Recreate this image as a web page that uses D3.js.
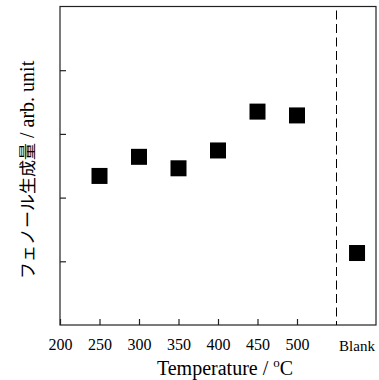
<!DOCTYPE html>
<meta charset="utf-8">
<script src="https://d3js.org/d3.v7.min.js"></script>
<style>
    body { margin: 0; background: #fff; }
    text { font-family: "Liberation Serif", "Times New Roman", serif; fill: #000; }
</style>
<svg width="379" height="380"></svg>
<script>
    // data
    var temps = [250, 300, 350, 400, 450, 500];
    var yields = [2.34, 2.64, 2.46, 2.74, 3.35, 3.29];
    var blankX = 576;
    var blankValue = 1.13;
    var xTicks = [200, 250, 300, 350, 400, 450, 500];
    var yTicks = [1, 2, 3, 4];

    var svg = d3.select("svg");
    var mLeft = 60, mRight = 376, mTop = 6.5, mBottom = 325;

    var x = d3.scaleLinear().domain([200, 600]).range([mLeft, mRight]);
    var y = d3.scaleLinear().domain([0, 5]).range([mBottom, mTop]);

    // frame
    svg.append("rect")
        .attr("x", mLeft).attr("y", mTop)
        .attr("width", mRight - mLeft).attr("height", mBottom - mTop)
        .attr("fill", "none").attr("stroke", "#222").attr("stroke-width", 1.2);

    // bottom ticks (inward)
    var xAxis = svg.append("g")
        .attr("transform", "translate(0," + mBottom + ")")
        .call(d3.axisBottom(x).tickValues(xTicks).tickSizeInner(-6).tickSizeOuter(0).tickPadding(14));
    xAxis.select(".domain").remove();
    xAxis.selectAll("line").attr("stroke", "#222").attr("stroke-width", 1.2);
    xAxis.selectAll("text")
        .style("font-family", "'Liberation Serif', serif")
        .style("font-size", "16px");

    // left ticks (inward, no labels)
    var yAxis = svg.append("g")
        .attr("transform", "translate(" + mLeft + ",0)")
        .call(d3.axisLeft(y).tickValues(yTicks).tickSizeInner(-6).tickSizeOuter(0).tickFormat(""));
    yAxis.select(".domain").remove();
    yAxis.selectAll("line").attr("stroke", "#222").attr("stroke-width", 1.2);

    // dashed separator
    svg.append("line")
        .attr("x1", x(550)).attr("x2", x(550))
        .attr("y1", mTop + 4).attr("y2", mBottom)
        .attr("stroke", "#000").attr("stroke-width", 1)
        .attr("stroke-dasharray", "9,4.5");

    svg.append("text")
        .attr("x", x(blankX)).attr("y", 351)
        .attr("text-anchor", "middle")
        .style("font-size", "15px")
        .text("Blank");

    // points
    var sz = 16;
    svg.append("g").selectAll("rect")
        .data(temps.map(function (t, i) { return [t, yields[i]]; }).concat([[blankX, blankValue]]))
        .enter().append("rect")
        .attr("x", function (d) { return x(d[0]) - sz / 2; })
        .attr("y", function (d) { return y(d[1]) - sz / 2; })
        .attr("width", sz).attr("height", sz)
        .attr("fill", "#000");

    // x title
    var xt = svg.append("text")
        .attr("x", 225).attr("y", 375)
        .attr("text-anchor", "middle")
        .style("font-size", "20px");
    xt.append("tspan").text("Temperature / ");
    xt.append("tspan").attr("dy", -8).style("font-size", "13px").text("o");
    xt.append("tspan").attr("dy", 8).text("C");

    // y title
    var yt = svg.append("text")
        .attr("transform", "translate(34,279) rotate(-90)")
        .attr("text-anchor", "start");
    yt.append("tspan")
        .style("font-family", "'Noto Sans CJK JP', sans-serif")
        .style("font-size", "17px")
        .text("フェノール生成量");
    yt.append("tspan").style("font-size", "20px").text(" / arb. unit");
</script>
